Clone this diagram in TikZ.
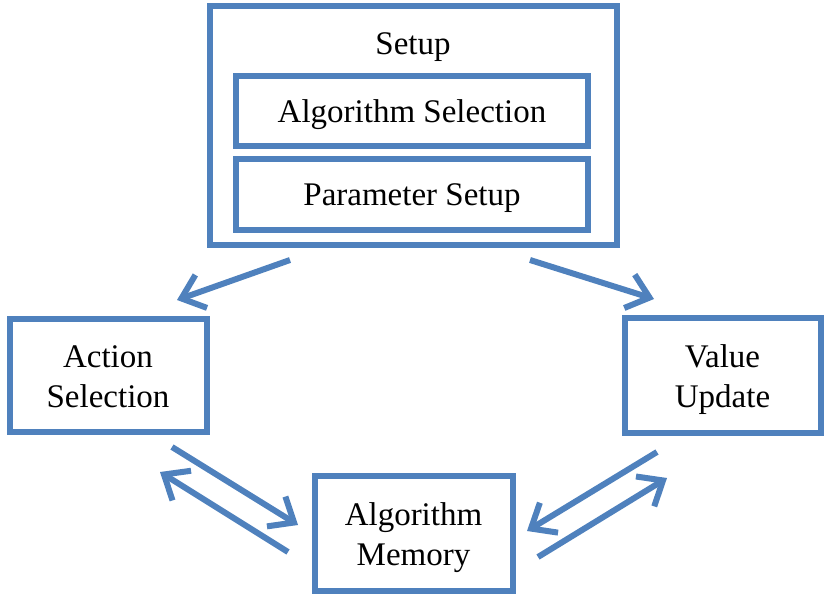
\documentclass[tikz,border=0pt]{standalone}
\usepackage{fontspec}
\setmainfont{Liberation Serif}
\usetikzlibrary{arrows.meta}
\definecolor{boxblue}{HTML}{4F81BD}
\tikzset{
  blk/.style={draw=boxblue, line width=6pt, rectangle, inner sep=0pt},
  txt/.style={inner sep=0pt, align=center, font=\fontsize{33}{40}\selectfont},
  conn/.style={draw=boxblue, line width=6pt, -{Straight Barb[length=21pt,width=35pt]}},
}
\begin{document}
\begin{tikzpicture}[x=1pt,y=-1pt]
\useasboundingbox (0,0) rectangle (829,596);
% boxes
\node[blk, minimum width=407pt, minimum height=239pt] (setup) at (413.5,125.5) {};
\node[txt, anchor=base] (setuplbl) at (413,55) {Setup};
\node[blk, minimum width=352pt, minimum height=70pt] (algsel) at (412,111) {};
\node[txt, yshift=-4pt] (algseltxt) at (algsel.center) {Algorithm Selection};
\node[blk, minimum width=352pt, minimum height=70pt] (param) at (412,194.5) {};
\node[txt, yshift=-4pt] (paramtxt) at (param.center) {Parameter Setup};
\node[blk, minimum width=197pt, minimum height=113pt] (action) at (108,375) {};
\node[txt, yshift=-2pt] (actiontxt) at (action.center) {Action\\Selection};
\node[blk, minimum width=196pt, minimum height=115pt] (value) at (722.5,375) {};
\node[txt, yshift=-5pt] (valuetxt) at (value.center) {Value\\Update};
\node[blk, minimum width=198pt, minimum height=115pt] (memory) at (413.5,533) {};
\node[txt, yshift=-5pt] (memorytxt) at (memory.center) {Algorithm\\Memory};
% connector end points
\coordinate (s1) at (290,260);
\coordinate (t1) at (177,300);
\coordinate (s2) at (530,260);
\coordinate (t2) at (654,299);
\coordinate (s3) at (172,447);
\coordinate (t3) at (298,525);
\coordinate (s4) at (288,552);
\coordinate (t4) at (160,472);
\coordinate (s5) at (657,452);
\coordinate (t5) at (527,531);
\coordinate (s6) at (538,557);
\coordinate (t6) at (667,478);
% connectors
\draw[conn] (s1) -- (t1);
\draw[conn] (s2) -- (t2);
\draw[conn] (s3) -- (t3);
\draw[conn] (s4) -- (t4);
\draw[conn] (s5) -- (t5);
\draw[conn] (s6) -- (t6);
\end{tikzpicture}
\end{document}
